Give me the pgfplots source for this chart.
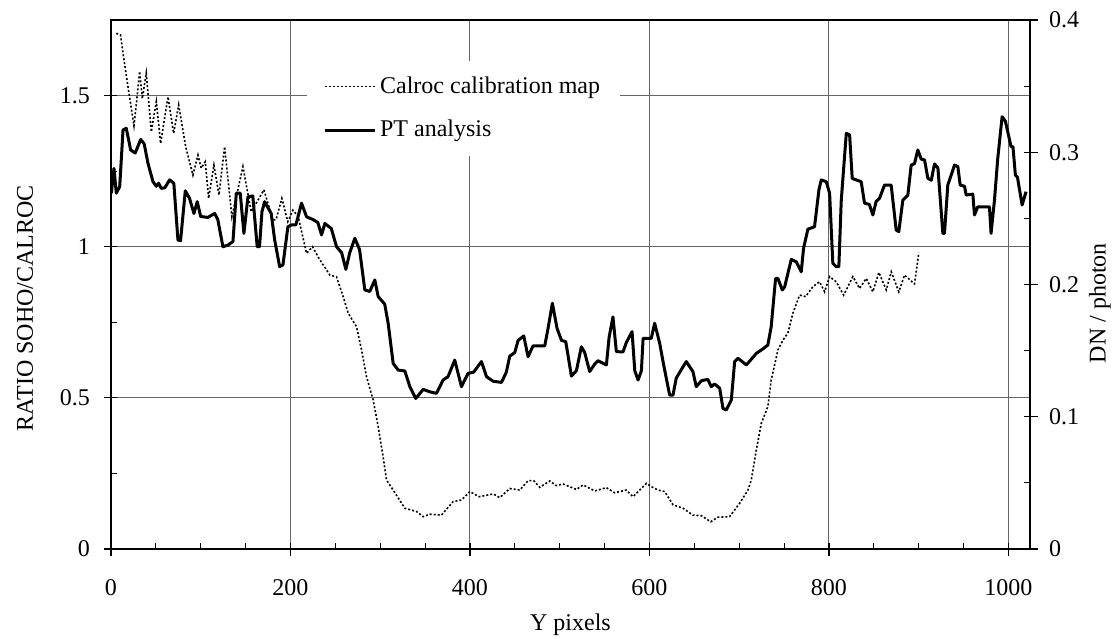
\documentclass[border=0pt]{standalone}
\usepackage{fontspec}
\setmainfont{Liberation Serif}
\usepackage{pgfplots}
\pgfplotsset{compat=1.18}
\pgfplotsset{every axis plot/.append style={legend image code/.code={\draw[#1] (0pt,0pt) -- (25pt,0pt);}}}
\begin{document}
\begin{tikzpicture}[font=\fontsize{12}{14.4}\selectfont]
\begin{axis}[name=ax, scale only axis, width=459.5pt, height=264.5pt,
  xmin=0, xmax=1024, ymin=0, ymax=1.75,
  xtick={0,200,...,1000}, minor xtick={0,50,...,1000},
  ytick={0,0.5,1,1.5}, minor ytick={0,0.25,...,1.75},
  tick align=outside, major tick length=3.5pt, minor tick length=-3pt,
  xtick pos=left, ytick pos=left,
  tick style={black, line width=0.6pt},
  grid=major, major grid style={black!60, line width=0.5pt},
  axis line style={line width=0.6pt},
  /pgf/number format/assume math mode=true, /pgf/number format/1000 sep={},
  yticklabel style={/pgf/number format/fixed, xshift=-3.5pt},
  xticklabel style={yshift=-8pt},
  ylabel={RATIO SOHO/CALROC}, ylabel style={at={(axis description cs:-0.0936,0.455)}, anchor=center},
  xlabel={Y pixels}, xlabel style={at={(axis description cs:0.5,-0.144)}, anchor=center},
  legend cell align=left,
  legend style={at={(axis description cs:0.213,0.924)}, anchor=north west, draw=none, fill=white,
    inner xsep=8pt, inner ysep=6pt, row sep=8pt, font=\fontsize{12}{14.4}\selectfont},
]
\addplot[black, line width=0.8pt, dash pattern=on 1pt off 1pt] coordinates {
(5.9,1.706) (10.7,1.70) (13.4,1.64) (18.9,1.53) (25.6,1.40) (28.5,1.48) (31.9,1.58) (34.9,1.49)
(39.3,1.574) (44.9,1.38) (50.5,1.48) (55.3,1.342) (63.5,1.496) (69.8,1.375) (75.4,1.469) (83.2,1.331)
(91.3,1.237) (96.9,1.303) (100.5,1.26) (105,1.281) (108.8,1.16) (114.7,1.27) (120.3,1.171) (126.6,1.331)
(134.7,1.099) (147,1.265) (156.2,1.116) (163,1.15) (170.4,1.188) (180.4,1.088) (184,1.09) (190.4,1.16)
(197,1.083) (202.7,1.121) (208.6,1.10) (217.9,0.978) (224.6,1.0) (232,0.96) (243.9,0.906) (251.3,0.90)
(258.7,0.835) (264.3,0.78) (273.6,0.735) (279.2,0.658) (284.7,0.57) (292.1,0.493) (297.7,0.405) (303.2,0.305)
(307,0.228) (314.4,0.195) (327.4,0.135) (340.4,0.124) (347.8,0.107) (355.2,0.115) (368.2,0.112) (381.2,0.157)
(390.5,0.162) (399.8,0.19) (410.1,0.173) (425.9,0.182) (433.2,0.17) (444.3,0.2) (455.5,0.195) (464.7,0.226)
(471,0.226) (477.7,0.204) (488.9,0.225) (496,0.21) (503.7,0.215) (518.6,0.197) (526,0.212) (539,0.192)
(552,0.203) (561.2,0.186) (574.2,0.195) (581.6,0.173) (596.5,0.217) (603,0.205) (609.5,0.195) (617,0.19)
(626.2,0.146) (637.3,0.135) (648.4,0.112) (658,0.11) (668.2,0.09) (676,0.105) (689.3,0.107) (700.4,0.151)
(709.7,0.195) (713.4,0.228) (719,0.327) (724.6,0.416) (731.9,0.471) (735.6,0.559) (743.1,0.658) (748.7,0.691)
(754.2,0.714) (759.8,0.78) (767.3,0.84) (774,0.835) (782.1,0.868) (789.5,0.884) (795.1,0.851) (800.7,0.901)
(808.1,0.884) (816.3,0.84) (826.6,0.901) (834.1,0.862) (841.5,0.895) (848.9,0.851) (855.6,0.915) (863.8,0.857)
(869.4,0.917) (877.8,0.851) (884.2,0.906) (895.3,0.877) (900.1,0.98)
};
\addlegendentry{Calroc calibration map}
\addplot[black, line width=1.5pt, line join=round] coordinates {
(0.4,1.177) (3.3,1.259) (5.9,1.177) (9.7,1.199) (13.4,1.386) (17,1.392) (21.9,1.32) (27,1.31)
(33.1,1.355) (37,1.34) (41.2,1.276) (46.8,1.215) (50.5,1.20) (53,1.21) (56,1.193) (60,1.195)
(65.3,1.221) (70,1.21) (74.6,1.022) (77.5,1.02) (82.8,1.185) (87.5,1.16) (92.4,1.11) (96.1,1.149)
(99.9,1.1) (108,1.097) (115.5,1.11) (119,1.09) (124.7,1.0) (130,1.005) (135.9,1.017) (139.6,1.177)
(144,1.177) (148.1,1.044) (152.6,1.165) (158,1.168) (162.9,1.0) (165.5,1.0) (168.2,1.116) (171.2,1.149)
(178.5,1.11) (182.3,1.024) (187.9,0.934) (191.6,0.94) (197.1,1.066) (201,1.072) (206,1.072) (212.3,1.144)
(217.9,1.099) (225,1.09) (230.5,1.08) (234.6,1.039) (238.3,1.077) (245.5,1.06) (251.3,1.0) (257,0.98)
(261.7,0.925) (266,0.98) (271.7,1.028) (277,0.99) (282.8,0.857) (288.3,0.852) (294,0.89) (297.7,0.835)
(305,0.81) (308.8,0.747) (314.4,0.614) (320,0.592) (327.4,0.589) (333,0.537) (339.6,0.498) (347.8,0.528)
(355.2,0.52) (362.6,0.515) (370,0.559) (375.5,0.57) (383,0.625) (390.5,0.537) (397.9,0.581) (404,0.585)
(412.8,0.62) (418.4,0.57) (425.9,0.555) (435.1,0.551) (440.5,0.585) (444.3,0.638) (449.9,0.65) (453.6,0.69)
(459.9,0.705) (464.7,0.636) (470.3,0.672) (483.3,0.672) (487,0.73) (491.8,0.813) (497,0.73) (502,0.69)
(506.7,0.686) (513,0.572) (518.6,0.59) (524.1,0.669) (527.8,0.65) (533.4,0.587) (539,0.612) (542.6,0.623)
(552,0.609) (555,0.7) (559.3,0.768) (563.1,0.653) (570.5,0.652) (574.2,0.683) (580.6,0.719) (583.6,0.59)
(587.3,0.559) (591,0.59) (592.9,0.697) (602,0.697) (605.8,0.747) (611.4,0.68) (615.8,0.609) (622.5,0.509)
(626.2,0.509) (629.8,0.565) (635.4,0.593) (641,0.62) (648.4,0.587) (652.1,0.537) (658,0.557) (665.1,0.561)
(668.8,0.537) (672.5,0.546) (678.2,0.532) (681.9,0.465) (685.6,0.46) (691.2,0.493) (694.9,0.62) (698.6,0.631)
(707.9,0.609) (713.5,0.628) (719,0.647) (726.4,0.662) (731.9,0.675) (735.6,0.735) (740.5,0.895) (743.1,0.895)
(748,0.857) (750.6,0.867) (758,0.958) (763.6,0.95) (769.1,0.917) (771.7,0.995) (776.5,1.058) (783.9,1.066)
(788.8,1.188) (791.4,1.221) (797,1.215) (800.7,1.177) (804.3,0.945) (808.1,0.934) (811,0.934) (813.7,1.154)
(819.3,1.375) (823,1.37) (825.9,1.226) (835.9,1.215) (839.6,1.144) (845,1.14) (848.9,1.105) (852.6,1.15)
(856.3,1.16) (861.9,1.204) (869.3,1.204) (874.9,1.055) (877.8,1.05) (882.3,1.154) (887.9,1.171) (891.6,1.27)
(895.3,1.275) (899,1.32) (902.7,1.29) (906.5,1.287) (910.2,1.226) (914,1.22) (917.6,1.274) (921.4,1.26)
(926.9,1.044) (928.7,1.044) (932.4,1.204) (939.9,1.27) (943.6,1.265) (946.2,1.204) (951,1.2) (952.9,1.171)
(960.3,1.174) (962.1,1.105) (965.8,1.132) (978.8,1.132) (980.6,1.044) (984.4,1.154) (988,1.29) (992.9,1.43)
(996.6,1.415) (1002.9,1.331) (1005,1.331) (1007.7,1.237) (1010,1.23) (1015.2,1.138) (1019.6,1.182)
};
\addlegendentry{PT analysis}
\end{axis}
\begin{axis}[scale only axis, width=459.5pt, height=264.5pt,
  xmin=0, xmax=1024, ymin=0, ymax=0.4,
  axis x line=none, axis y line*=right,
  ytick={0,0.1,0.2,0.3,0.4}, minor ytick={0,0.05,...,0.4},
  tick align=outside, major tick length=4pt, minor tick length=-3pt,
  tick style={black, line width=0.6pt},
  axis line style={line width=0.6pt},
  /pgf/number format/assume math mode=true,
  yticklabel style={/pgf/number format/fixed, xshift=2pt},
  ylabel={DN / photon}, ylabel style={at={(axis description cs:1.076,0.465)}, anchor=center},
]
\end{axis}
\pgfresetboundingbox
\path[use as bounding box] ([shift={(-55.5pt,-44.5pt)}]ax.south west) rectangle ([shift={(503.5pt,274.5pt)}]ax.south west);
\end{tikzpicture}
\end{document}
